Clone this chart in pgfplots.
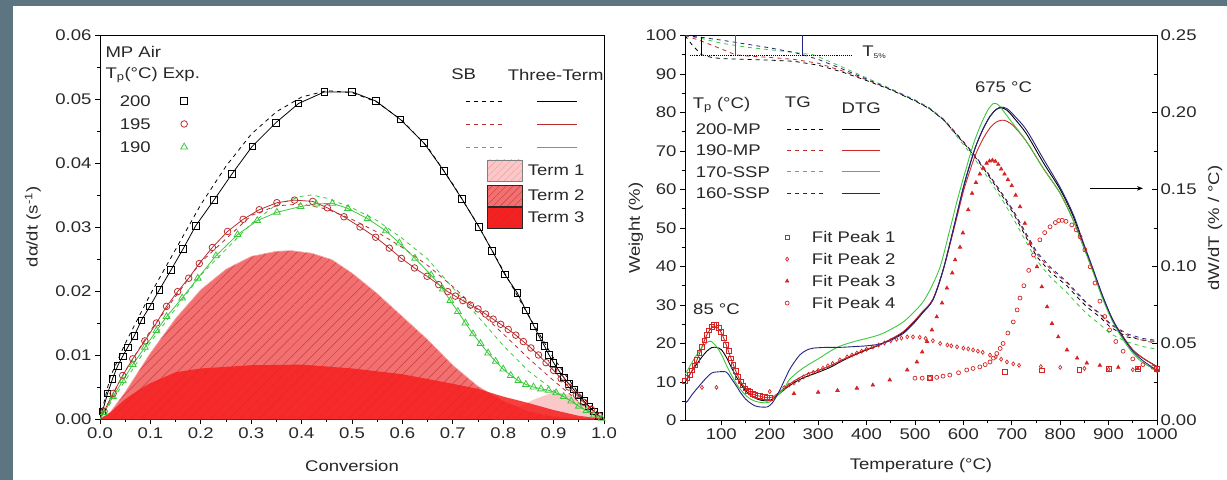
\documentclass[border=0pt]{standalone}
\usepackage{fontspec}
\setmainfont{Liberation Sans}[FakeStretch=1.2]
\usepackage{pgfplots}
\pgfplotsset{compat=1.18}
\usetikzlibrary{patterns.meta,arrows.meta}

\definecolor{bg}{RGB}{92,117,128}
\definecolor{ink}{RGB}{40,40,40}
\definecolor{cred}{RGB}{185,45,45}
\definecolor{cgreen}{RGB}{60,200,60}
\definecolor{cblue}{RGB}{35,35,130}
\definecolor{dred}{RGB}{205,40,40}
\definecolor{fitred}{RGB}{215,35,35}
\definecolor{termone}{RGB}{250,200,200}
\definecolor{termtwo}{RGB}{242,112,112}
\definecolor{hatch}{RGB}{200,60,60}
\definecolor{termthree}{RGB}{246,30,30}

\pgfplotsset{
  origin/.style={
    scale only axis,
    font=\fontsize{15.5}{18}\selectfont,
    tick label style={font=\fontsize{15.5}{18}\selectfont, text=ink},
    label style={font=\fontsize{15.5}{18}\selectfont, text=ink},
    /pgf/number format/assume math mode=true,
    /pgf/number format/1000 sep={},
    axis line style={line width=0.9pt},
    major tick length=5bp, minor tick length=3bp,
    every tick/.style={line width=0.8pt, black},
    minor tick num=1, tick align=outside,
  },
  sb/.style={dash pattern=on 4bp off 4bp, line width=0.8pt},
  fit/.style={only marks, fitred, mark size=2, mark options={line width=0.7pt}},
}

\begin{document}
\begin{tikzpicture}
\useasboundingbox (0bp,0bp) rectangle (1227bp,480bp);
\fill[bg] (0bp,0bp) rectangle (1227bp,480bp);
\fill[white] (13bp,0bp) rectangle (1227bp,474bp);

% ---------------- left panel ----------------
\begin{axis}[origin,
  at={(100bp,61bp)}, anchor=south west, width=504bp, height=384bp,
  xmin=0, xmax=1, ymin=0, ymax=0.06,
  xtick={0,0.1,0.2,0.3,0.4,0.5,0.6,0.7,0.8,0.9,1},
  ytick={0,0.01,0.02,0.03,0.04,0.05,0.06},
  tick pos=left, scaled ticks=false,
  xticklabel style={/pgf/number format/.cd,fixed,fixed zerofill,precision=1},
  yticklabel style={/pgf/number format/.cd,fixed,fixed zerofill,precision=2},
  xlabel={Conversion}, ylabel={dα/dt (s\textsuperscript{-1})},
  xlabel style={at={(axis description cs:0.5,-0.122)},anchor=center},
  ylabel style={at={(axis description cs:-0.133,0.5)},anchor=center},
]
% Term 1
\addplot[draw=none, fill=termone] coordinates {(0.78,0) (0.82,0.0015) (0.86,0.003) (0.9,0.0042) (0.93,0.0038) (0.96,0.0022) (0.99,0.0004) (1,0)} \closedcycle;
% Term 2
\addplot[draw=termtwo!60!white, fill=termtwo,
  postaction={pattern={Lines[angle=45,distance=7bp,line width=0.5bp]}, pattern color=hatch}]
  coordinates {(0,0) (0.02,0.001) (0.05,0.0042) (0.1,0.0103) (0.15,0.0157) (0.2,0.0202) (0.25,0.0234) (0.3,0.0254) (0.35,0.0262) (0.38,0.0263) (0.42,0.0259) (0.46,0.0249) (0.5,0.0228) (0.55,0.0196) (0.6,0.016) (0.65,0.0124) (0.7,0.0084) (0.75,0.0051) (0.8,0.0028) (0.85,0.0012) (0.9,0.0004) (0.95,0.0001) (0.98,0)} \closedcycle;
% Term 3
\addplot[draw=none, fill=termthree, fill opacity=0.85]
  coordinates {(0,0) (0.02,0.001) (0.05,0.0031) (0.08,0.0047) (0.1,0.0056) (0.15,0.0073) (0.2,0.0079) (0.3,0.0084) (0.4,0.0085) (0.5,0.0079) (0.6,0.007) (0.7,0.0055) (0.75,0.0047) (0.8,0.0035) (0.85,0.0025) (0.9,0.0014) (0.95,0.0005) (1,0)} \closedcycle;

% SB model (dashed)
\addplot[sb, black] coordinates {(0,0) (0.02,0.0065) (0.05,0.0118) (0.1,0.0195) (0.15,0.0265) (0.2,0.0335) (0.25,0.0395) (0.3,0.0445) (0.35,0.048) (0.4,0.0503) (0.45,0.0513) (0.5,0.051) (0.55,0.0495) (0.6,0.0466) (0.65,0.0425) (0.7,0.0367) (0.75,0.0303) (0.8,0.0232) (0.85,0.0162) (0.9,0.0095) (0.95,0.004) (1,0)};
\addplot[sb, cred] coordinates {(0,0) (0.05,0.0075) (0.1,0.0138) (0.2,0.0245) (0.3,0.0318) (0.35,0.0333) (0.4,0.0336) (0.45,0.0328) (0.5,0.0312) (0.55,0.0292) (0.6,0.0268) (0.65,0.024) (0.7,0.0207) (0.75,0.017) (0.8,0.0133) (0.85,0.0095) (0.9,0.006) (0.95,0.0027) (1,0)};
\addplot[sb, cgreen] coordinates {(0,0) (0.05,0.006) (0.1,0.012) (0.2,0.0225) (0.3,0.0305) (0.35,0.0335) (0.4,0.0348) (0.42,0.035) (0.45,0.0345) (0.5,0.033) (0.55,0.031) (0.6,0.0282) (0.65,0.025) (0.7,0.0205) (0.75,0.016) (0.8,0.0115) (0.85,0.0075) (0.9,0.0045) (0.95,0.002) (1,0)};

% Three-term model (solid)
\addplot[black, line width=0.8pt] coordinates {(0,0) (0.005,0.0012) (0.015,0.004) (0.025,0.0063) (0.035,0.0083) (0.045,0.0098) (0.055,0.0112) (0.068,0.013) (0.082,0.0154) (0.099,0.0176) (0.118,0.0202) (0.141,0.0233) (0.165,0.0266) (0.19,0.0302) (0.226,0.0342) (0.262,0.0383) (0.302,0.0426) (0.349,0.0463) (0.394,0.0493) (0.445,0.0511) (0.5,0.0511) (0.547,0.0497) (0.596,0.0468) (0.643,0.0431) (0.682,0.0388) (0.718,0.0344) (0.752,0.03) (0.778,0.0263) (0.803,0.0226) (0.828,0.0197) (0.845,0.017) (0.861,0.0145) (0.872,0.0128) (0.882,0.0114) (0.891,0.01) (0.9,0.0088) (0.91,0.0076) (0.92,0.0065) (0.93,0.0055) (0.94,0.0046) (0.95,0.0037) (0.96,0.0028) (0.97,0.002) (0.98,0.0012) (0.99,0.0005) (1,0)};
\addplot[cred, line width=0.8pt] coordinates {(0,0) (0.008,0.0012) (0.026,0.004) (0.045,0.0068) (0.065,0.0094) (0.089,0.0122) (0.112,0.015) (0.132,0.0176) (0.154,0.0199) (0.176,0.022) (0.197,0.0243) (0.223,0.0268) (0.253,0.0293) (0.284,0.0312) (0.316,0.0327) (0.351,0.0338) (0.386,0.0342) (0.422,0.034) (0.451,0.033) (0.484,0.0316) (0.516,0.03) (0.547,0.0284) (0.574,0.0267) (0.598,0.0251) (0.624,0.0236) (0.649,0.0223) (0.672,0.021) (0.69,0.0199) (0.705,0.0192) (0.72,0.0185) (0.735,0.0178) (0.75,0.0172) (0.765,0.0164) (0.78,0.0156) (0.795,0.0148) (0.81,0.014) (0.825,0.0131) (0.84,0.0121) (0.855,0.0111) (0.87,0.01) (0.885,0.0088) (0.9,0.0076) (0.915,0.0063) (0.93,0.005) (0.945,0.0038) (0.96,0.0026) (0.975,0.0015) (0.99,0.0005) (1,0)};
\addplot[cgreen, line width=0.8pt] coordinates {(0,0) (0.008,0.001) (0.026,0.0035) (0.045,0.006) (0.065,0.0085) (0.089,0.0112) (0.112,0.0138) (0.132,0.016) (0.163,0.0189) (0.194,0.022) (0.23,0.0255) (0.273,0.0288) (0.312,0.031) (0.351,0.0323) (0.398,0.0332) (0.429,0.0336) (0.461,0.0337) (0.492,0.0329) (0.531,0.0313) (0.567,0.0294) (0.594,0.0275) (0.625,0.0251) (0.657,0.0225) (0.68,0.0203) (0.695,0.0185) (0.71,0.0168) (0.725,0.015) (0.74,0.0133) (0.755,0.0118) (0.77,0.0103) (0.785,0.009) (0.8,0.0078) (0.815,0.0068) (0.83,0.006) (0.845,0.0054) (0.86,0.005) (0.875,0.0047) (0.89,0.0045) (0.905,0.0041) (0.92,0.0035) (0.935,0.0028) (0.95,0.002) (0.965,0.0013) (0.98,0.0006) (0.995,0.0001) (1,0)};

% experiment markers
\addplot[only marks, black, mark=square, mark size=3.3, mark options={line width=0.8pt}] coordinates {(0.005,0.0012) (0.015,0.004) (0.025,0.0063) (0.035,0.0083) (0.045,0.0098) (0.055,0.0112) (0.068,0.013) (0.082,0.0154) (0.099,0.0176) (0.118,0.0202) (0.141,0.0233) (0.165,0.0266) (0.19,0.0302) (0.226,0.0342) (0.262,0.0383) (0.302,0.0426) (0.349,0.0463) (0.394,0.0493) (0.445,0.0511) (0.5,0.0511) (0.547,0.0497) (0.596,0.0468) (0.643,0.0431) (0.682,0.0388) (0.718,0.0344) (0.752,0.03) (0.778,0.0263) (0.803,0.0226) (0.828,0.0197) (0.845,0.017) (0.861,0.0145) (0.872,0.0128) (0.882,0.0114) (0.891,0.01) (0.9,0.0088) (0.91,0.0076) (0.92,0.0065) (0.93,0.0055) (0.94,0.0046) (0.95,0.0037) (0.96,0.0028) (0.97,0.002) (0.98,0.0012) (0.99,0.0005)};
\addplot[only marks, cred, mark=o, mark size=3.3, mark options={line width=0.8pt}] coordinates {(0.008,0.0012) (0.026,0.004) (0.045,0.0068) (0.065,0.0094) (0.089,0.0122) (0.112,0.015) (0.132,0.0176) (0.154,0.0199) (0.176,0.022) (0.197,0.0243) (0.223,0.0268) (0.253,0.0293) (0.284,0.0312) (0.316,0.0327) (0.351,0.0338) (0.386,0.0342) (0.422,0.034) (0.451,0.033) (0.484,0.0316) (0.516,0.03) (0.547,0.0284) (0.574,0.0267) (0.598,0.0251) (0.624,0.0236) (0.649,0.0223) (0.672,0.021) (0.69,0.0199) (0.705,0.0192) (0.72,0.0185) (0.735,0.0178) (0.75,0.0172) (0.765,0.0164) (0.78,0.0156) (0.795,0.0148) (0.81,0.014) (0.825,0.0131) (0.84,0.0121) (0.855,0.0111) (0.87,0.01) (0.885,0.0088) (0.9,0.0076) (0.915,0.0063) (0.93,0.005) (0.945,0.0038) (0.96,0.0026) (0.975,0.0015) (0.99,0.0005)};
\addplot[only marks, cgreen, mark=triangle, mark size=3.9, mark options={line width=0.8pt}] coordinates {(0.008,0.001) (0.026,0.0035) (0.045,0.006) (0.065,0.0085) (0.089,0.0112) (0.112,0.0138) (0.132,0.016) (0.163,0.0189) (0.194,0.022) (0.23,0.0255) (0.273,0.0288) (0.312,0.031) (0.351,0.0323) (0.398,0.0332) (0.429,0.0336) (0.461,0.0337) (0.492,0.0329) (0.531,0.0313) (0.567,0.0294) (0.594,0.0275) (0.625,0.0251) (0.657,0.0225) (0.68,0.0203) (0.695,0.0185) (0.71,0.0168) (0.725,0.015) (0.74,0.0133) (0.755,0.0118) (0.77,0.0103) (0.785,0.009) (0.8,0.0078) (0.815,0.0068) (0.83,0.006) (0.845,0.0054) (0.86,0.005) (0.875,0.0047) (0.89,0.0045) (0.905,0.0041) (0.92,0.0035) (0.935,0.0028) (0.95,0.002) (0.965,0.0013) (0.98,0.0006) (0.995,0.0001)};

% legend (left)
\node[anchor=west, text=ink] at (axis cs:0.004,0.0574) {MP Air};
\node[anchor=west, text=ink] at (axis cs:0.004,0.0537) {T\textsubscript{p}(°C) Exp.};
\node[text=ink] at (axis cs:0.07,0.0497) {200};
\node[text=ink] at (axis cs:0.07,0.0461) {195};
\node[text=ink] at (axis cs:0.07,0.0425) {190};
\addplot[only marks, black, mark=square, mark size=3.3, mark options={line width=0.8pt}] coordinates {(0.167,0.0497)};
\addplot[only marks, cred, mark=o, mark size=3.3, mark options={line width=0.8pt}] coordinates {(0.167,0.0461)};
\addplot[only marks, cgreen, mark=triangle, mark size=3.9, mark options={line width=0.8pt}] coordinates {(0.167,0.0425)};
% legend (right)
\node[anchor=west, text=ink] at (axis cs:0.69,0.0538) {SB};
\node[anchor=east, text=ink] at (axis cs:1.006,0.0538) {Three-Term};
\addplot[sb, black] coordinates {(0.727,0.0497) (0.806,0.0497)};
\addplot[sb, cred] coordinates {(0.727,0.0461) (0.806,0.0461)};
\addplot[sb, cgreen] coordinates {(0.727,0.0425) (0.806,0.0425)};
\addplot[black, line width=0.8pt] coordinates {(0.868,0.0497) (0.947,0.0497)};
\addplot[cred, line width=0.8pt] coordinates {(0.868,0.0461) (0.947,0.0461)};
\addplot[cgreen, line width=0.8pt] coordinates {(0.868,0.0425) (0.947,0.0425)};
\addplot[draw=gray, fill=termone, postaction={pattern={Lines[angle=45,distance=5bp,line width=0.4bp]}, pattern color=termtwo!70}] coordinates {(0.768,0.0372) (0.838,0.0372) (0.838,0.0405) (0.768,0.0405) (0.768,0.0372)};
\addplot[draw=ink, fill=termtwo, postaction={pattern={Lines[angle=45,distance=5bp,line width=0.4bp]}, pattern color=hatch}] coordinates {(0.768,0.0332) (0.838,0.0332) (0.838,0.0365) (0.768,0.0365) (0.768,0.0332)};
\addplot[draw=ink, fill=termthree, postaction={pattern={Lines[angle=45,distance=5bp,line width=0.4bp]}, pattern color=hatch}] coordinates {(0.768,0.0298) (0.838,0.0298) (0.838,0.0331) (0.768,0.0331) (0.768,0.0298)};
\node[anchor=west, text=ink] at (axis cs:0.842,0.0389) {Term 1};
\node[anchor=west, text=ink] at (axis cs:0.842,0.0349) {Term 2};
\node[anchor=west, text=ink] at (axis cs:0.842,0.0315) {Term 3};
\end{axis}

% ---------------- right panel: TG (left axis) ----------------
\begin{axis}[origin,
  at={(685bp,59.5bp)}, anchor=south west, width=472bp, height=385bp,
  xmin=25, xmax=1000, ymin=0, ymax=100,
  xtick={100,200,300,400,500,600,700,800,900,1000},
  ytick={0,10,20,30,40,50,60,70,80,90,100},
  tick pos=left,
  xlabel={Temperature (°C)}, ylabel={Weight (\%)},
  xlabel style={at={(axis description cs:0.5,-0.118)},anchor=center},
  ylabel style={at={(axis description cs:-0.104,0.5)},anchor=center},
]
\addplot[sb, black] coordinates {(25,100) (40,97.5) (59,95) (80,94.3) (100,94) (150,93.8) (200,93.6) (250,93.3) (300,92.3) (350,90.5) (400,88.3) (450,85.9) (500,83) (530,81) (560,78) (584,74.5) (608,71) (630,67.5) (650,64) (682,58) (703,53.9) (730,47.5) (752,42.5) (780,38.5) (814,35) (835,32.1) (855,29.5) (882,26.9) (903,24.3) (938,21.7) (971,20.9) (1000,20.5)};
\addplot[sb, cred] coordinates {(25,100) (60,98.5) (100,96.5) (129,95) (150,94.7) (200,94.3) (250,93.8) (300,92.8) (350,90.8) (400,88.5) (450,86) (500,83.2) (530,81.2) (560,78.2) (584,74.8) (608,71.3) (630,67.8) (650,64.3) (682,58.4) (703,54.3) (730,48) (752,43.2) (780,39.3) (814,35.7) (835,32.9) (855,30.3) (882,27.6) (903,25) (938,22.2) (971,20.8) (1000,20)};
\addplot[sb, cgreen] coordinates {(25,100) (60,99.2) (100,98) (150,97) (200,96.3) (250,95.6) (290,95) (300,94.5) (350,91.8) (400,89) (450,86.2) (500,83.3) (530,81.2) (560,78) (584,74.2) (608,70.4) (630,66.8) (650,63.2) (682,57) (703,52.5) (730,46.3) (752,41.5) (780,37.2) (814,33.2) (835,30.3) (855,27.7) (882,25) (903,22.6) (938,20.4) (971,19.2) (1000,18.5)};
\addplot[sb, cblue] coordinates {(25,100) (60,99.5) (100,98.8) (150,97.8) (200,96.8) (250,95.6) (268,95) (300,93.8) (350,91.3) (400,88.7) (450,86) (500,83.1) (530,81) (560,78) (584,74.6) (608,71.2) (630,67.8) (650,64.4) (682,58.6) (703,54.6) (730,48.5) (752,43.7) (780,39.8) (814,36) (835,33.2) (855,30.5) (882,27.8) (903,25.2) (938,22.5) (971,21.3) (1000,20.8)};
% T5% markers
\addplot[black, densely dotted, line width=0.9pt] coordinates {(35,94.7) (371,94.7)};
\addplot[black, line width=1.2pt] coordinates {(59,95) (59,99.5)};
\addplot[cred, line width=1.5pt] coordinates {(129,95) (129,100)};
\addplot[cblue, line width=1.5pt] coordinates {(268,95) (268,100)};
\node[anchor=west, text=ink] at (axis cs:384,95.6) {T\textsubscript{\fontsize{7}{8}\selectfont 5\%}};
% legend lines
\node[anchor=west, text=ink] at (axis cs:34,82) {T\textsubscript{p} (°C)};
\node[text=ink] at (axis cs:258,82.6) {TG};
\node[text=ink] at (axis cs:389,81) {DTG};
\node[anchor=west, text=ink] at (axis cs:40,75.6) {200-MP};
\node[anchor=west, text=ink] at (axis cs:40,70.1) {190-MP};
\node[anchor=west, text=ink] at (axis cs:40,64.6) {170-SSP};
\node[anchor=west, text=ink] at (axis cs:40,59.1) {160-SSP};
\addplot[sb, black] coordinates {(236,75.6) (314,75.6)};
\addplot[sb, cred] coordinates {(236,70.1) (314,70.1)};
\addplot[sb, cgreen] coordinates {(236,64.6) (314,64.6)};
\addplot[sb, cblue] coordinates {(236,59.1) (314,59.1)};
\addplot[black, line width=0.9pt] coordinates {(349,75.6) (428,75.6)};
\addplot[dred, line width=0.9pt] coordinates {(349,70.1) (428,70.1)};
\addplot[cgreen, line width=0.9pt] coordinates {(349,64.6) (428,64.6)};
\addplot[cblue, line width=0.9pt] coordinates {(349,59.1) (428,59.1)};
\addplot[fit, mark=square] coordinates {(236,47.6)};
\addplot[fit, mark=diamond] coordinates {(236,41.9)};
\addplot[fit, mark=triangle*] coordinates {(236,36.2)};
\addplot[fit, mark=o] coordinates {(236,30.5)};
\node[anchor=west, text=ink] at (axis cs:280,47.6) {Fit Peak 1};
\node[anchor=west, text=ink] at (axis cs:280,41.9) {Fit Peak 2};
\node[anchor=west, text=ink] at (axis cs:280,36.2) {Fit Peak 3};
\node[anchor=west, text=ink] at (axis cs:280,30.5) {Fit Peak 4};
\node[text=ink] at (axis cs:90,29) {85 °C};
\node[text=ink] at (axis cs:683,86.5) {675 °C};
\draw[-{Stealth[length=6bp]}, line width=1pt] (axis cs:862,60.3) -- (axis cs:971,60.3);
\end{axis}

% ---------------- right panel: DTG (right axis) ----------------
\begin{axis}[origin,
  at={(685bp,59.5bp)}, anchor=south west, width=472bp, height=385bp,
  xmin=25, xmax=1000, ymin=0, ymax=0.25,
  axis x line=none, axis y line*=right, tick align=inside,
  ytick={0,0.05,0.1,0.15,0.2,0.25}, scaled y ticks=false,
  yticklabel style={/pgf/number format/.cd,fixed,fixed zerofill,precision=2},
  ylabel={dW/dT (\% / °C)},
  ylabel style={at={(axis description cs:1.123,0.5)},anchor=center},
]
% fit peaks
\addplot[fit, mark=square, mark size=2.4, mark options={line width=0.9pt}] coordinates {(25,0.0258) (30,0.0275) (35,0.0298) (40,0.0325) (45,0.0358) (50,0.0395) (55,0.0438) (60,0.0478) (65,0.052) (70,0.0555) (75,0.0585) (80,0.0605) (85,0.062) (90,0.0618) (95,0.06) (100,0.0573) (105,0.0535) (110,0.0493) (115,0.045) (120,0.0403) (125,0.036) (130,0.032) (135,0.0283) (140,0.0253) (145,0.0228) (150,0.0208) (155,0.0193) (160,0.0183) (165,0.0173) (170,0.0165) (175,0.0161) (180,0.0158) (185,0.0155) (190,0.0151) (195,0.015) (200,0.0148) (531,0.0275) (686,0.0315) (762,0.0325) (840,0.033) (900,0.0333) (960,0.0333) (1000,0.0333)};
\addplot[fit, mark=diamond] coordinates {(60,0.0215) (90,0.0215) (200,0.0188) (230,0.0213) (240,0.023) (250,0.0245) (260,0.0263) (270,0.0283) (280,0.03) (290,0.0313) (300,0.0325) (310,0.034) (320,0.0355) (330,0.037) (345,0.0393) (360,0.0413) (370,0.0425) (380,0.0438) (390,0.045) (400,0.0463) (413,0.0478) (425,0.049) (437,0.0503) (450,0.0518) (462,0.0528) (472,0.0535) (484,0.0543) (496,0.0543) (510,0.054) (522,0.0533) (537,0.0518) (552,0.05) (567,0.049) (575,0.0485) (587,0.0478) (600,0.047) (610,0.0465) (620,0.0458) (630,0.045) (640,0.0443) (655,0.0425) (667,0.0413) (678,0.0398) (690,0.038) (703,0.0368) (715,0.0358) (760,0.035) (800,0.0345) (850,0.0338) (900,0.0333) (950,0.033) (1000,0.0325)};
\addplot[fit, mark=triangle*] coordinates {(250,0.0175) (300,0.0183) (340,0.0195) (380,0.021) (413,0.023) (448,0.0263) (484,0.0328) (504,0.038) (515,0.0445) (525,0.0513) (535,0.0588) (545,0.0673) (556,0.0763) (566,0.086) (577,0.0958) (583,0.1043) (593,0.1125) (599,0.1218) (610,0.1368) (618,0.1475) (626,0.1545) (634,0.16) (641,0.1638) (648,0.167) (654,0.1685) (660,0.169) (666,0.1683) (672,0.1663) (678,0.1633) (685,0.16) (692,0.1563) (700,0.1525) (708,0.1463) (717,0.1388) (727,0.128) (738,0.115) (752,0.0998) (762,0.0868) (773,0.0738) (783,0.063) (796,0.0543) (814,0.0458) (835,0.0405) (855,0.0373) (882,0.0358) (920,0.0345) (960,0.0338) (1000,0.0333)};
\addplot[fit, mark=o] coordinates {(500,0.0275) (515,0.0275) (531,0.0275) (545,0.028) (558,0.0288) (572,0.0295) (590,0.031) (607,0.0328) (620,0.0338) (634,0.0348) (645,0.0363) (655,0.038) (662,0.0405) (669,0.0435) (676,0.0468) (682,0.05) (692,0.0568) (703,0.064) (711,0.0718) (717,0.0795) (725,0.0875) (735,0.0975) (745,0.1075) (758,0.1173) (768,0.122) (779,0.1258) (790,0.1285) (797,0.1298) (804,0.13) (812,0.1293) (824,0.127) (833,0.1238) (841,0.1193) (851,0.1108) (862,0.0998) (872,0.0893) (882,0.0775) (892,0.0675) (902,0.0588) (915,0.0513) (930,0.045) (950,0.04) (971,0.0363) (992,0.0345)};
% DTG curves
\addplot[black, line width=0.9pt, smooth, tension=0.5] coordinates {(25,0.025) (30,0.0275) (40,0.0325) (50,0.037) (60,0.0413) (70,0.045) (80,0.0473) (90,0.0475) (100,0.046) (110,0.0413) (120,0.035) (130,0.029) (140,0.0238) (150,0.0195) (160,0.0163) (170,0.0145) (180,0.0133) (190,0.0128) (200,0.013) (210,0.015) (220,0.0175) (230,0.02) (240,0.0225) (260,0.0263) (280,0.029) (300,0.0313) (325,0.0345) (350,0.0388) (375,0.0425) (400,0.0458) (425,0.0488) (448,0.0523) (475,0.057) (496,0.0633) (515,0.07) (537,0.0783) (558,0.0975) (579,0.1238) (599,0.15) (610,0.1625) (625,0.1775) (640,0.1888) (655,0.1975) (668,0.202) (678,0.203) (690,0.2015) (705,0.1963) (730,0.1863) (765,0.1675) (800,0.15) (827,0.1325) (847,0.115) (868,0.0975) (888,0.08) (909,0.065) (930,0.0543) (950,0.0458) (971,0.0405) (1000,0.035)};
\addplot[dred, line width=0.9pt, smooth, tension=0.5] coordinates {(25,0.0258) (30,0.0275) (40,0.0325) (50,0.0395) (60,0.0478) (70,0.0555) (80,0.0605) (85,0.0615) (90,0.061) (100,0.057) (110,0.0493) (120,0.0403) (130,0.032) (140,0.0253) (150,0.0208) (160,0.0183) (170,0.0165) (180,0.0158) (190,0.015) (200,0.0148) (210,0.016) (220,0.0185) (230,0.021) (240,0.0235) (260,0.0275) (280,0.0305) (300,0.0325) (325,0.0355) (350,0.0395) (375,0.043) (400,0.0463) (425,0.049) (448,0.0525) (475,0.0575) (496,0.0638) (515,0.0705) (537,0.0788) (558,0.0975) (579,0.1225) (599,0.1475) (610,0.1588) (625,0.1725) (640,0.1825) (655,0.19) (668,0.1938) (680,0.195) (690,0.1943) (705,0.1908) (730,0.1813) (765,0.1638) (800,0.1475) (827,0.13) (847,0.1138) (868,0.097) (888,0.08) (909,0.065) (930,0.0543) (950,0.0458) (971,0.0405) (1000,0.035)};
\addplot[cgreen, line width=0.9pt, smooth, tension=0.5] coordinates {(25,0.03) (30,0.0325) (40,0.038) (50,0.043) (60,0.0475) (70,0.0505) (78,0.0515) (90,0.048) (100,0.043) (110,0.0363) (120,0.03) (130,0.0245) (140,0.02) (150,0.0165) (160,0.014) (170,0.0125) (180,0.0118) (190,0.0115) (200,0.012) (210,0.0145) (220,0.0175) (230,0.0208) (240,0.0263) (260,0.032) (280,0.0363) (300,0.04) (325,0.045) (345,0.0483) (375,0.0513) (400,0.0533) (425,0.0555) (448,0.0588) (475,0.0638) (496,0.0698) (515,0.0763) (531,0.0848) (552,0.0998) (572,0.1238) (589,0.145) (607,0.165) (620,0.1788) (635,0.1913) (650,0.2013) (662,0.2058) (672,0.205) (685,0.2) (700,0.1938) (730,0.1813) (765,0.1638) (800,0.1475) (827,0.13) (847,0.1138) (868,0.0963) (888,0.0788) (909,0.0638) (930,0.0525) (950,0.0438) (971,0.0375) (1000,0.0325)};
\addplot[cblue, line width=0.9pt, smooth, tension=0.5] coordinates {(25,0.0113) (30,0.0125) (40,0.017) (50,0.0208) (60,0.0245) (70,0.028) (80,0.0308) (90,0.0315) (110,0.0315) (120,0.0275) (130,0.023) (140,0.018) (150,0.014) (160,0.0113) (170,0.0095) (180,0.0088) (195,0.0088) (205,0.0113) (215,0.0163) (225,0.0225) (240,0.0325) (250,0.0375) (262,0.0425) (275,0.0455) (290,0.047) (320,0.0475) (345,0.0475) (375,0.048) (400,0.0485) (425,0.0495) (448,0.0518) (475,0.0563) (496,0.0625) (515,0.0695) (537,0.0783) (558,0.0975) (579,0.1238) (599,0.15) (610,0.1625) (625,0.1775) (640,0.1888) (655,0.1975) (668,0.202) (678,0.2035) (690,0.2025) (705,0.198) (730,0.1888) (765,0.17) (800,0.1513) (827,0.1338) (847,0.1163) (868,0.0983) (888,0.0808) (909,0.065) (930,0.0538) (950,0.045) (971,0.0388) (1000,0.0325)};
\end{axis}
\end{tikzpicture}
\end{document}
